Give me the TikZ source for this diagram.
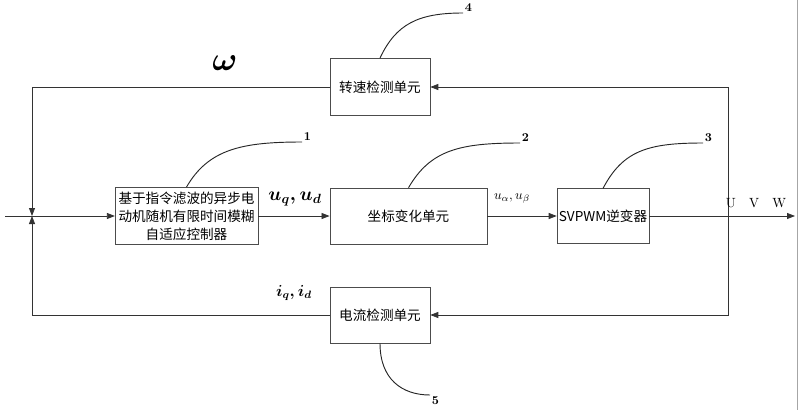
\documentclass[tikz,border=0pt]{standalone}
\usepackage{fontspec}
\newfontfamily\cjk{Noto Sans CJK SC}
\usetikzlibrary{arrows.meta}

\begin{document}
\begin{tikzpicture}[x=0.75pt,y=-0.75pt,
	unit/.style={draw=black!70, fill=white, align=center, inner sep=1pt,
		font=\cjk\fontsize{10.2}{13.5}\selectfont},
	sig/.style={draw=black!80, line width=0.6pt, -{Triangle[length=6pt,width=4.5pt]}},
	lead/.style={draw=black!85, line width=0.7pt},
	num/.style={font=\fontsize{9}{9}\selectfont\bfseries, inner sep=1pt}]
	\path[use as bounding box] (0,0) rectangle (799,410);
	\draw[black!35] (797.5,0) -- (797.5,410);

	% blocks
	\node[unit, minimum width=107pt, minimum height=43pt] (ctrl) at (186.5,216) {基于指令滤波的异步电\\动机随机有限时间模糊\\自适应控制器};
	\node[unit, minimum width=118pt, minimum height=42pt] (coord) at (408.5,216) {坐标变化单元};
	\node[unit, minimum width=69pt, minimum height=41pt] (svpwm) at (603,216) {SVPWM逆变器};
	\node[unit, minimum width=75pt, minimum height=43pt] (speed) at (380,87) {转速检测单元};
	\node[unit, minimum width=75pt, minimum height=42pt] (current) at (380,315) {电流检测单元};

	\coordinate (in) at (5,216);
	\coordinate (sum) at (32,216);
	\coordinate (tap) at (728,216);
	\coordinate (out) at (795,216);

	% forward path
	\draw[sig] (in) -- (ctrl);
	\draw[sig] (ctrl) -- (coord);
	\draw[sig] (coord) -- (svpwm);
	\draw[sig] (svpwm) -- (out);

	% feedback loops
	\draw[sig] (tap) |- (speed);
	\draw[sig] (speed) -| (sum);
	\draw[sig] (tap) |- (current);
	\draw[sig] (current) -| (sum);

	% signal labels
	\node[font=\fontsize{24}{24}\selectfont\boldmath] (w) at (225,63) {$\omega$};
	\node[font=\Large\boldmath] (uqd) at (295,199) {$u_q,u_d$};
	\node (uab) at (512,199) {$u_\alpha,u_\beta$};
	\node[font=\large\boldmath] (iqd) at (294,293) {$i_q,i_d$};
	\node (uvw) at (756,203) {U\quad V\quad W};

	% leader lines with numbers
	\coordinate (l1) at (302,142);
	\coordinate (l2) at (520,143);
	\coordinate (l3) at (703,143);
	\coordinate (l4) at (463,13);
	\coordinate (l5) at (430,395);
	\draw[lead] (ctrl.north) .. controls +(22,-38) and +(-60,0) .. (l1) node[num, anchor=south west] {1};
	\draw[lead] (coord.north) .. controls +(22,-38) and +(-60,0) .. (l2) node[num, anchor=south west] {2};
	\draw[lead] (svpwm.north) .. controls +(20,-38) and +(-55,0) .. (l3) node[num, anchor=south west] {3};
	\draw[lead] (speed.north) .. controls +(16,-34) and +(-45,0) .. (l4) node[num, anchor=south west] {4};
	\draw[lead] (current.south) .. controls +(0,36) and +(-28,0) .. (l5) node[num, anchor=north west] {5};
\end{tikzpicture}
\end{document}
